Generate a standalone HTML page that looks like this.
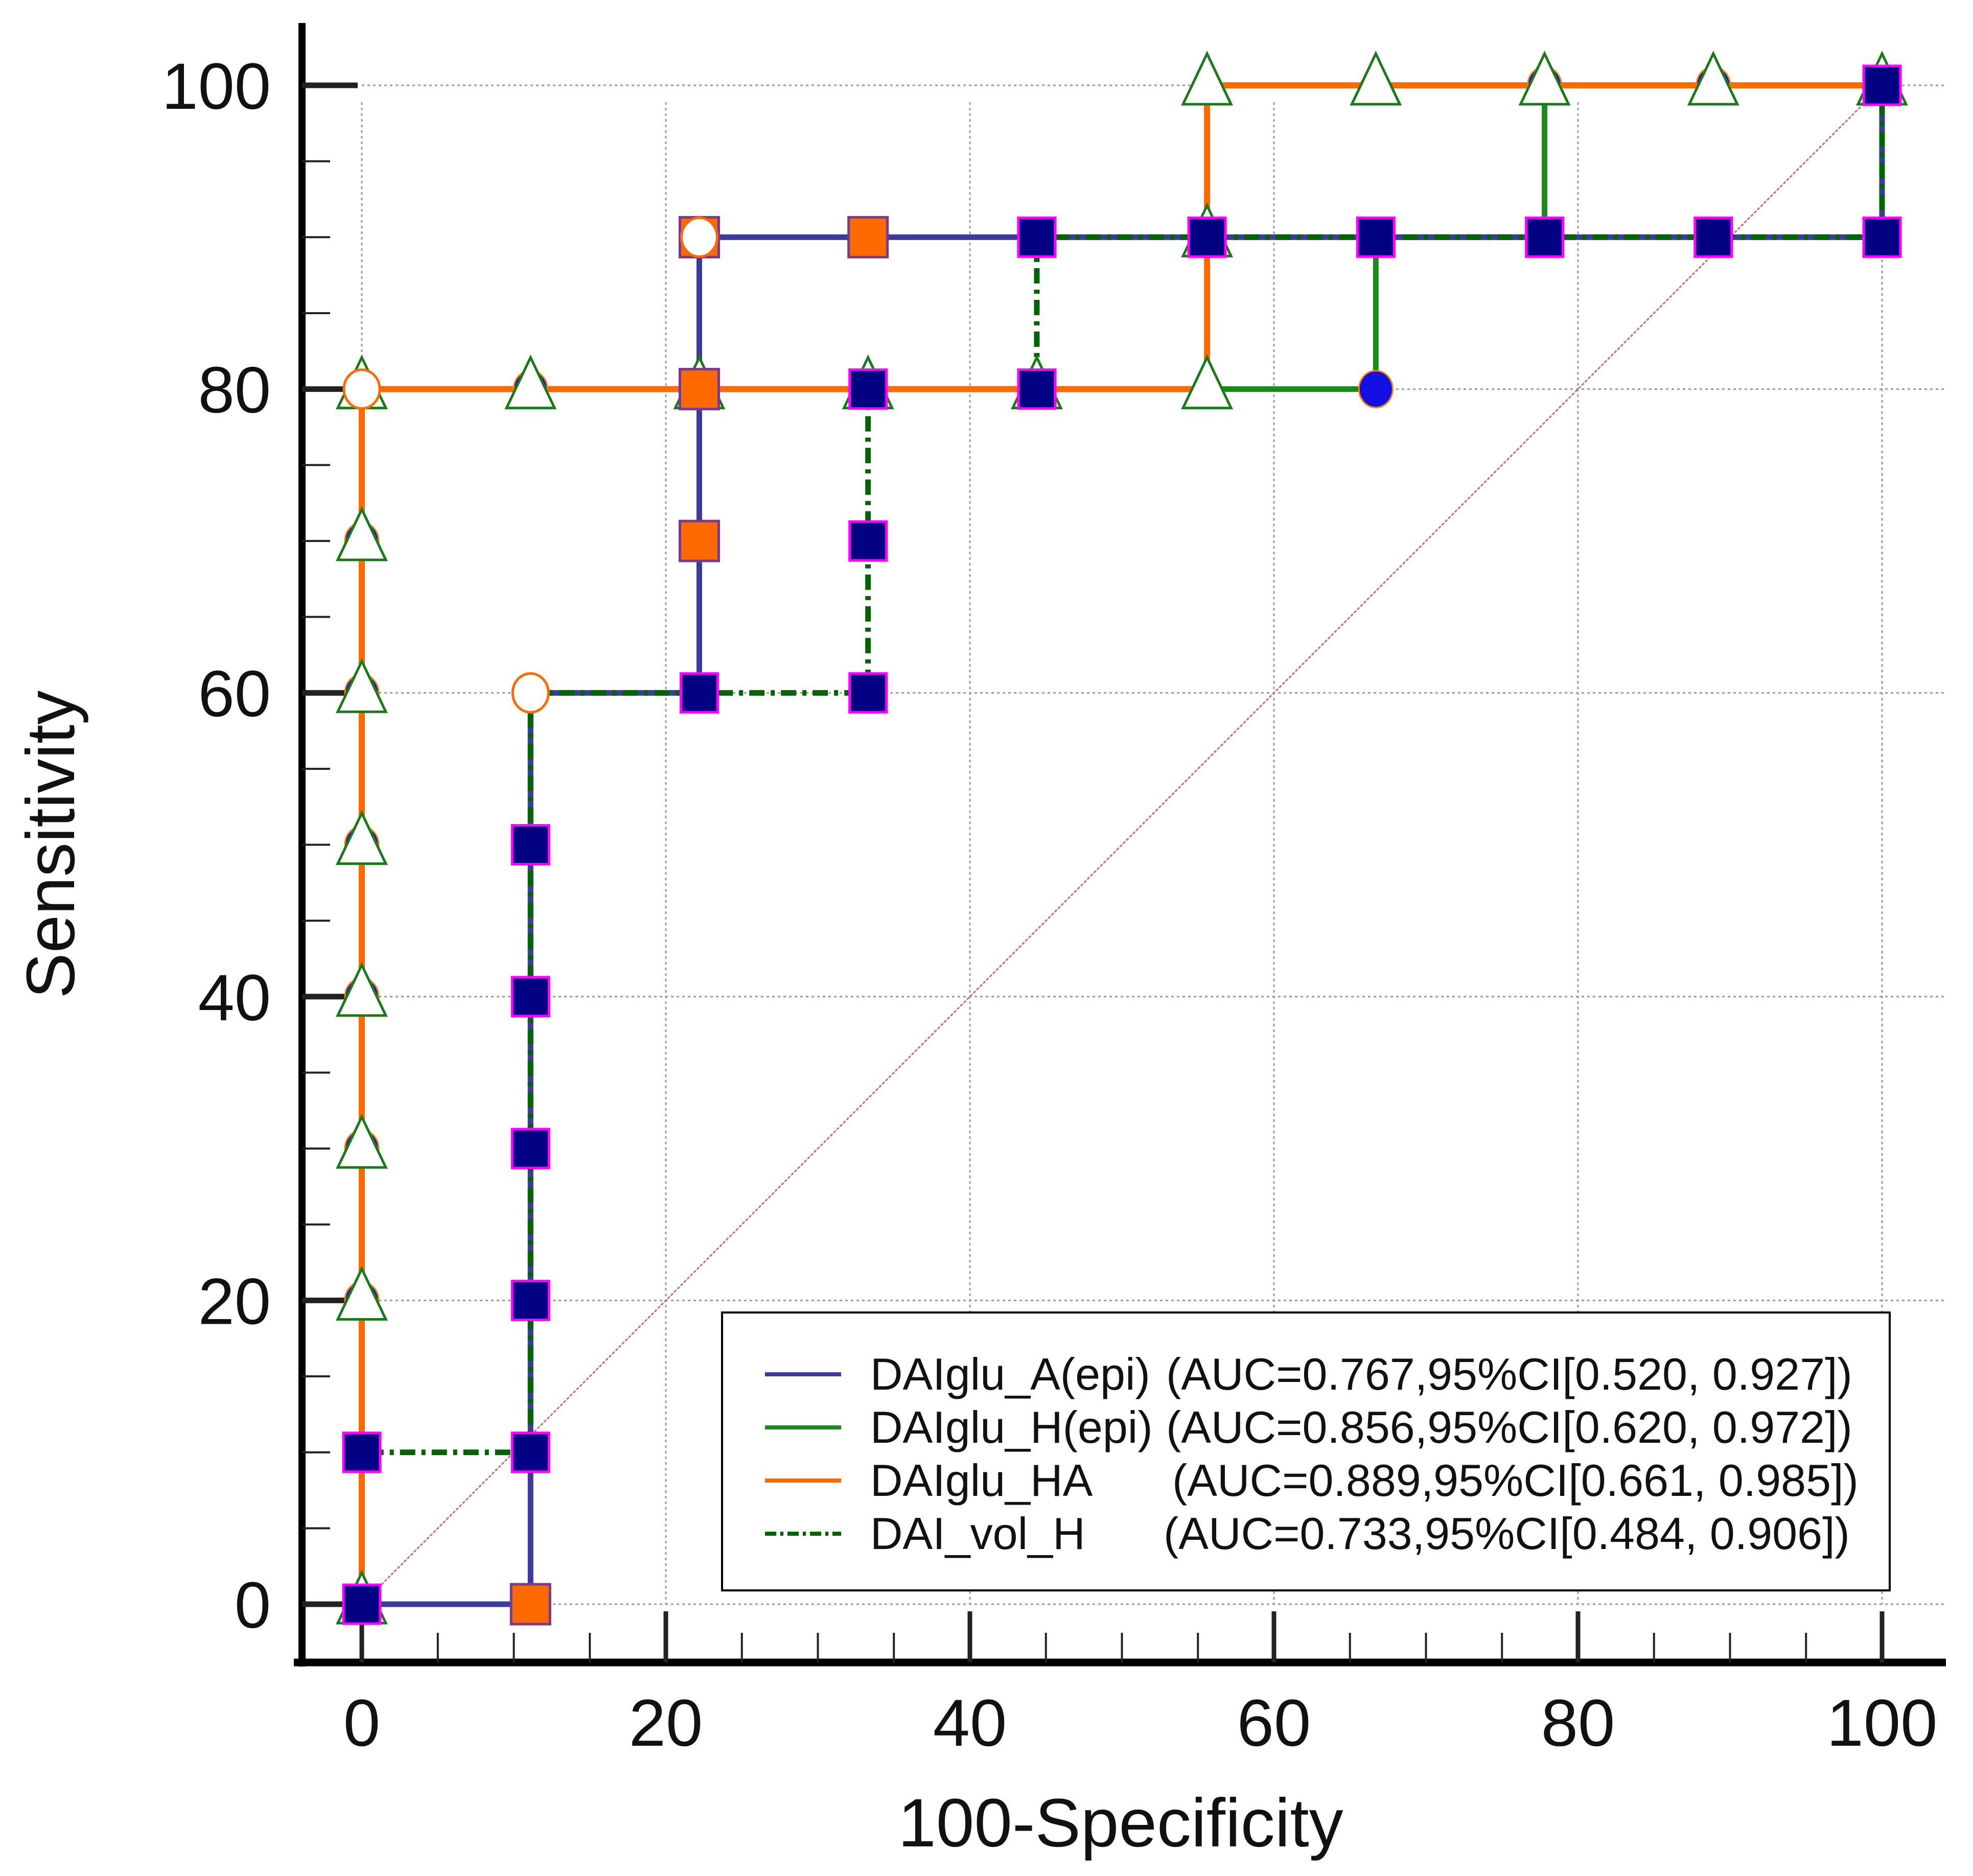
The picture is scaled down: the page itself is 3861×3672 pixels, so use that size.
<!DOCTYPE html>
<html><head><meta charset="utf-8"><style>
html,body{margin:0;padding:0;background:#fff;}
svg{display:block;font-family:"Liberation Sans",Arial,sans-serif;}
</style></head><body>
<svg id="chart" width="3861" height="3672" viewBox="0 0 3861 3672" xmlns="http://www.w3.org/2000/svg">
<g id="grid"></g>
<g id="axes"></g>
<g id="series"></g>
<g id="markers"></g>
<g id="legend">
<rect x="1413" y="2569" width="2285" height="544" fill="#fff" stroke="#000" stroke-width="4"/>
<line x1="1497" x2="1646" y1="2690" y2="2690" stroke="#3b3b9f" stroke-width="8"/>
<line x1="1497" x2="1646" y1="2794" y2="2794" stroke="#1a8a1a" stroke-width="8"/>
<line x1="1497" x2="1646" y1="2898" y2="2898" stroke="#ff6a00" stroke-width="8"/>
<line x1="1497" x2="1646" y1="3002" y2="3002" stroke="#006400" stroke-width="8" stroke-dasharray="22,8,6,8"/>
<g font-size="88" fill="#111">
<text x="1703" y="2720">DAIglu_A(epi)</text>
<text x="2282" y="2720">(AUC=0.767,95%CI[0.520, 0.927])</text>
<text x="1703" y="2824">DAIglu_H(epi)</text>
<text x="2282" y="2824">(AUC=0.856,95%CI[0.620, 0.972])</text>
<text x="1703" y="2928">DAIglu_HA</text>
<text x="2294" y="2928">(AUC=0.889,95%CI[0.661, 0.985])</text>
<text x="1703" y="3032">DAI_vol_H</text>
<text x="2277" y="3032">(AUC=0.733,95%CI[0.484, 0.906])</text>
</g>
</g>
<text x="2193" y="3614" font-size="134" text-anchor="middle" fill="#111">100-Specificity</text>
<text x="0" y="0" font-size="134" text-anchor="middle" fill="#111" transform="translate(145,1653) rotate(-90)">Sensitivity</text>
</svg>
<script>
const xTicks=[0,20,40,60,80,100];
const yTicks=[0,20,40,60,80,100];
const pathA=[[0,0],[11.1,0],[11.1,60],[22.2,60],[22.2,90],[100,90],[100,100]];
const pathH=[[0,0],[0,80],[66.7,80],[66.7,90],[77.8,90],[77.8,100],[100,100]];
const pathHA=[[0,0],[0,80],[55.6,80],[55.6,100],[100,100]];
const pathVol=[[0,0],[0,10],[11.1,10],[11.1,60],[33.3,60],[33.3,80],[44.4,80],[44.4,90],[100,90],[100,100]];
const blueCircles=[[0,20],[0,30],[0,40],[0,50],[0,60],[0,70],[11.1,80],[22.2,80],[66.7,80],[77.8,100],[88.9,100]];
const triangles=[[0,0],[0,20],[0,30],[0,40],[0,50],[0,60],[0,70],[0,80],[11.1,80],[22.2,80],[33.3,80],[44.4,80],[55.6,80],[55.6,90],[55.6,100],[66.7,100],[77.8,100],[88.9,100],[100,100]];
const orangeSquares=[[11.1,0],[22.2,70],[22.2,80],[22.2,90],[33.3,90]];
const whiteCircles=[[0,80],[22.2,90],[11.1,60]];
const navySquares=[[0,0],[0,10],[11.1,10],[11.1,20],[11.1,30],[11.1,40],[11.1,50],[22.2,60],[33.3,60],[33.3,70],[33.3,80],[44.4,80],[44.4,90],[55.6,90],[66.7,90],[77.8,90],[88.9,90],[100,90],[100,100]];

const NS='http://www.w3.org/2000/svg';
const X=v=>708+v*29.75, Y=v=>3140-v*29.73;
function mk(tag,attrs,parent){const e=document.createElementNS(NS,tag);for(const k in attrs)e.setAttribute(k,attrs[k]);parent.appendChild(e);return e;}
const grid=document.getElementById('grid'),axes=document.getElementById('axes'),ser=document.getElementById('series'),mg=document.getElementById('markers');

xTicks.forEach(t=>{const l=mk('line',{x1:X(t),x2:X(t),y1:200,y2:3140,stroke:'#999','stroke-width':3,'stroke-dasharray':'5,6'},grid);

});
yTicks.forEach(t=>{const l=mk('line',{x1:708,x2:3810,y1:Y(t),y2:Y(t),stroke:'#999','stroke-width':3,'stroke-dasharray':'5,6'},grid);

});
const diag=mk('line',{x1:X(0),y1:Y(0),x2:X(100),y2:Y(100),stroke:'#c07070','stroke-width':3,'stroke-dasharray':'6,3'},grid);



const ya=mk('line',{x1:591,x2:591,y1:45,y2:3262,stroke:'#000','stroke-width':14},axes);


const xa=mk('line',{x1:575,x2:3808,y1:3254,y2:3254,stroke:'#000','stroke-width':15},axes);


for(let v=0;v<=100;v+=5){
  const major=v%20===0;
  const tx=mk('line',{x1:X(v),x2:X(v),y1:3254,y2:major?3154:3196,stroke:'#222','stroke-width':major?9:4},axes);
  
  
  const ty=mk('line',{x1:591,x2:major?700:646,y1:Y(v),y2:Y(v),stroke:'#222','stroke-width':major?11:4},axes);
  
  
}
xTicks.forEach(t=>{const e=mk('text',{x:X(t),y:3417,'font-size':130,'text-anchor':'middle',fill:'#111'},axes);e.textContent=t;

});
yTicks.forEach(t=>{const e=mk('text',{x:530,y:Y(t)+46,'font-size':128,'text-anchor':'end',fill:'#111'},axes);e.textContent=t;

});

function path(pts,color,w,dash,name){
  const d=pts.map((p,i)=>(i?'L':'M')+X(p[0])+' '+Y(p[1])).join(' ');
  const a={d:d,fill:'none',stroke:color,'stroke-width':w};if(dash)a['stroke-dasharray']=dash;
  const e=mk('path',a,ser);
  
  
}
path(pathH,'#1a8a1a',11,null,'line-daiglu-h-epi');
path(pathA,'#3b3b9f',11,null,'line-daiglu-a-epi');
path(pathVol,'#006400',11,'30,12,8,12','line-dai-vol-h');
path(pathHA,'#ff6a00',12,null,'line-daiglu-ha');

blueCircles.forEach(p=>{const e=mk('ellipse',{cx:X(p[0]),cy:Y(p[1]),rx:33,ry:36,fill:'#1010e0',stroke:'#ff8000','stroke-width':3},mg);

});
triangles.forEach(p=>{const x=X(p[0]),y=Y(p[1]);const e=mk('polygon',{points:`${x},${y-62} ${x-47},${y+37} ${x+47},${y+37}`,fill:'#fff',stroke:'#1a7a1a','stroke-width':5},mg);

});
orangeSquares.forEach(p=>{const e=mk('rect',{x:X(p[0])-38,y:Y(p[1])-39,width:76,height:78,fill:'#ff6a00',stroke:'#7a3a8a','stroke-width':5},mg);

});
whiteCircles.forEach(p=>{const e=mk('ellipse',{cx:X(p[0]),cy:Y(p[1]),rx:35,ry:38,fill:'#fff',stroke:'#ff6a00','stroke-width':5},mg);

});
navySquares.forEach(p=>{const e=mk('rect',{x:X(p[0])-36,y:Y(p[1])-38,width:72,height:76,fill:'#000080',stroke:'#ff00ff','stroke-width':5},mg);

});
</script>
</body></html>
